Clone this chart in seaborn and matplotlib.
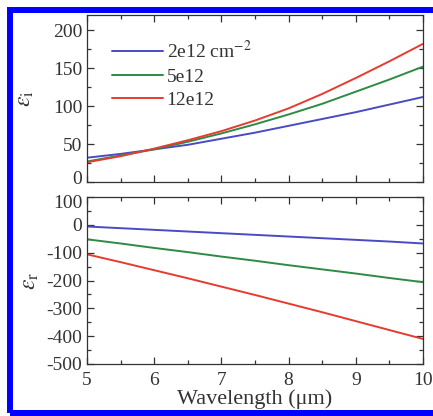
import numpy as np
import pandas as pd
import matplotlib
matplotlib.use("Agg")
import matplotlib.pyplot as plt
from matplotlib.ticker import MultipleLocator
from matplotlib.patches import Rectangle
from matplotlib.transforms import ScaledTranslation
import seaborn as sns

wavelength = [5.0, 5.5, 6.0, 6.5, 7.0, 7.5, 8.0, 8.5, 9.0, 9.5, 10.0]
series = ["2e12 cm$^{-2}$", "5e12", "12e12"]
eps_i_2e12 = [32, 37, 43, 49, 57, 65, 74, 83, 92, 102, 112]
eps_i_5e12 = [27, 35, 43, 53, 64, 76, 89, 103, 119, 135, 152]
eps_i_12e12 = [26, 34, 44, 55, 67, 81, 97, 116, 137, 159, 182]
eps_r_2e12 = [-6, -12, -18, -24, -30, -36, -42, -48, -54, -60, -67]
eps_r_5e12 = [-52, -67, -83, -98, -114, -129, -145, -160, -175, -191, -206]
eps_r_12e12 = [-106, -134, -163, -192, -222, -252, -283, -314, -346, -378, -410]

colors = ["#4a4ac4", "#2e8a45", "#e63b30"]

rows = []
for name, ei, er in zip(series, [eps_i_2e12, eps_i_5e12, eps_i_12e12],
                        [eps_r_2e12, eps_r_5e12, eps_r_12e12]):
    for w, a, b in zip(wavelength, ei, er):
        rows.append({"Wavelength": w, "series": name, "eps_i": a, "eps_r": b})
df = pd.DataFrame(rows)

sns.set_style("ticks")
plt.rcParams["font.family"] = ["Liberation Serif", "DejaVu Serif"]
plt.rcParams["mathtext.fontset"] = "stix"
plt.rcParams["axes.unicode_minus"] = False

fig = plt.figure(figsize=(4.33, 4.16), dpi=100)
W, H = 433, 416
ax1 = fig.add_axes([87 / W, 1 - 182 / H, 336 / W, 167 / H])
ax2 = fig.add_axes([87 / W, 1 - 364 / H, 336 / W, 167 / H])

pal = dict(zip(series, colors))
sns.lineplot(data=df, x="Wavelength", y="eps_i", hue="series", palette=pal,
             hue_order=series, ax=ax1, linewidth=1.4)
sns.lineplot(data=df, x="Wavelength", y="eps_r", hue="series", palette=pal,
             hue_order=series, ax=ax2, linewidth=1.4, legend=False)

tc = "#333333"
for ax in (ax1, ax2):
    ax.set_xlim(5, 10)
    ax.xaxis.set_major_locator(MultipleLocator(1))
    ax.xaxis.set_minor_locator(MultipleLocator(0.5))
    ax.tick_params(which="both", direction="in", top=True, right=True,
                   colors=tc, labelsize=14, labelcolor=tc, width=0.9)
    ax.tick_params(which="major", length=5)
    ax.tick_params(which="minor", length=3)
    ax.tick_params(axis="x", pad=6)
    for s in ax.spines.values():
        s.set_color(tc)
        s.set_linewidth(0.9)

ax1.set_ylim(0, 220)
ax1.yaxis.set_major_locator(MultipleLocator(50))
ax1.yaxis.set_minor_locator(MultipleLocator(25))
ax1.tick_params(labelbottom=False)
ax1.set_xlabel("")
ax1.set_ylabel(r"$\varepsilon_{\mathrm{i}}$", fontsize=17, color=tc, labelpad=12)

ax2.set_ylim(-500, 100)
ax2.yaxis.set_major_locator(MultipleLocator(100))
ax2.yaxis.set_minor_locator(MultipleLocator(50))
ax2.set_xlabel("Wavelength (μm)", fontsize=16, color=tc, labelpad=0)
ax2.set_ylabel(r"$\varepsilon_{\mathrm{r}}$", fontsize=17, color=tc, labelpad=4)

leg = ax1.legend(loc="upper left", frameon=False, fontsize=14,
                 bbox_to_anchor=(0.04, 0.92), handlelength=2.6,
                 handletextpad=0.2, labelspacing=0.3, borderaxespad=0.2)
for t in leg.get_texts():
    t.set_color(tc)

fig.canvas.draw()
for lab in ax1.get_yticklabels():
    if lab.get_position()[1] == 0:
        lab.set_transform(lab.get_transform() + ScaledTranslation(0, 3 / 72, fig.dpi_scale_trans))
for lab in ax2.get_yticklabels():
    if lab.get_position()[1] == 100:
        lab.set_transform(lab.get_transform() + ScaledTranslation(0, -3 / 72, fig.dpi_scale_trans))

fig.patches.append(Rectangle((10 / W, 3 / H), (W - 10 + 10) / W, (H - 13) / H,
                             transform=fig.transFigure, fill=False,
                             edgecolor="#0000ff", linewidth=4.3, zorder=10))

fig.savefig("out.png", dpi=100)
